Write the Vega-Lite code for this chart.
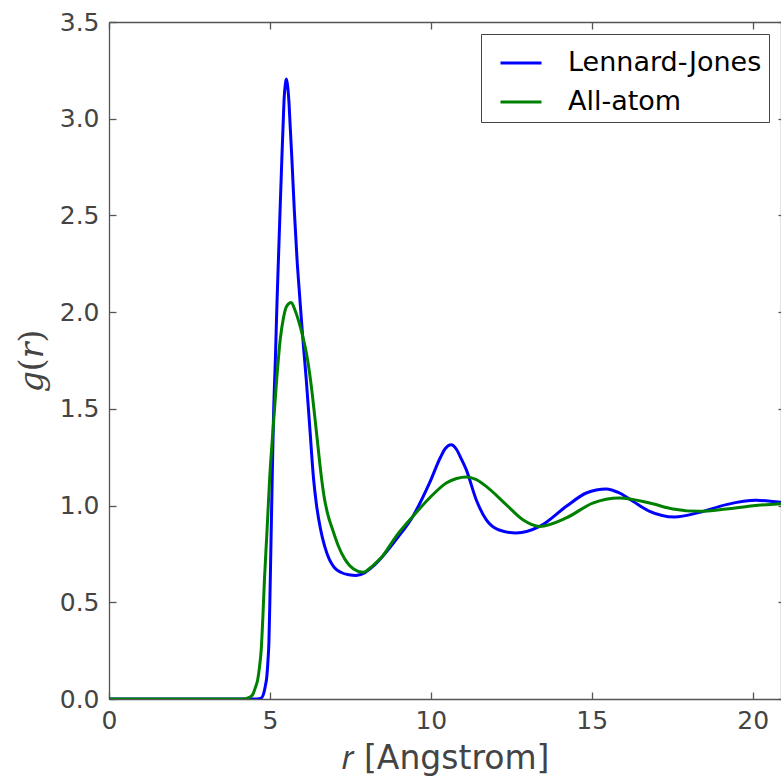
{
  "$schema": "https://vega.github.io/schema/vega-lite/v6.json",
  "autosize": {"type": "none"},
  "padding": {"left": 109, "top": 22, "right": 0, "bottom": 78},
  "width": 672,
  "height": 677,
  "background": "white",
  "config": {
    "font": "DejaVu Sans",
    "view": {"stroke": null},
    "axis": {
      "grid": false,
      "domainColor": "#555555",
      "domainWidth": 1.3,
      "tickColor": "#555555",
      "tickWidth": 1.3,
      "tickSize": -7,
      "labelFlush": false,
      "labelFont": "DejaVu Sans",
      "labelFontSize": 25,
      "labelColor": "#444444",
      "titleFont": "DejaVu Sans",
      "titleFontSize": 33,
      "titleFontWeight": "normal",
      "titleColor": "#444444"
    }
  },
  "data": {"values": [
    {"model": "Lennard-Jones", "r": 0.0, "g": 0.0},
    {"model": "Lennard-Jones", "r": 4.6, "g": 0.0},
    {"model": "Lennard-Jones", "r": 4.73, "g": 0.005},
    {"model": "Lennard-Jones", "r": 4.8, "g": 0.025},
    {"model": "Lennard-Jones", "r": 4.86, "g": 0.07},
    {"model": "Lennard-Jones", "r": 4.9, "g": 0.11},
    {"model": "Lennard-Jones", "r": 4.94, "g": 0.2},
    {"model": "Lennard-Jones", "r": 4.97, "g": 0.3},
    {"model": "Lennard-Jones", "r": 5.0, "g": 0.52},
    {"model": "Lennard-Jones", "r": 5.03, "g": 0.78},
    {"model": "Lennard-Jones", "r": 5.07, "g": 1.13},
    {"model": "Lennard-Jones", "r": 5.11, "g": 1.45},
    {"model": "Lennard-Jones", "r": 5.17, "g": 1.76},
    {"model": "Lennard-Jones", "r": 5.22, "g": 2.05},
    {"model": "Lennard-Jones", "r": 5.27, "g": 2.3},
    {"model": "Lennard-Jones", "r": 5.32, "g": 2.55},
    {"model": "Lennard-Jones", "r": 5.37, "g": 2.79},
    {"model": "Lennard-Jones", "r": 5.41, "g": 2.97},
    {"model": "Lennard-Jones", "r": 5.44, "g": 3.1},
    {"model": "Lennard-Jones", "r": 5.48, "g": 3.18},
    {"model": "Lennard-Jones", "r": 5.51, "g": 3.205},
    {"model": "Lennard-Jones", "r": 5.55, "g": 3.17},
    {"model": "Lennard-Jones", "r": 5.59, "g": 3.09},
    {"model": "Lennard-Jones", "r": 5.63, "g": 2.96},
    {"model": "Lennard-Jones", "r": 5.68, "g": 2.8},
    {"model": "Lennard-Jones", "r": 5.76, "g": 2.52},
    {"model": "Lennard-Jones", "r": 5.84, "g": 2.28},
    {"model": "Lennard-Jones", "r": 5.93, "g": 2.07},
    {"model": "Lennard-Jones", "r": 6.01, "g": 1.89},
    {"model": "Lennard-Jones", "r": 6.13, "g": 1.65},
    {"model": "Lennard-Jones", "r": 6.24, "g": 1.4},
    {"model": "Lennard-Jones", "r": 6.355, "g": 1.14},
    {"model": "Lennard-Jones", "r": 6.45, "g": 1.0},
    {"model": "Lennard-Jones", "r": 6.57, "g": 0.88},
    {"model": "Lennard-Jones", "r": 6.7, "g": 0.79},
    {"model": "Lennard-Jones", "r": 6.85, "g": 0.72},
    {"model": "Lennard-Jones", "r": 7.0, "g": 0.68},
    {"model": "Lennard-Jones", "r": 7.2, "g": 0.655},
    {"model": "Lennard-Jones", "r": 7.45, "g": 0.642},
    {"model": "Lennard-Jones", "r": 7.68, "g": 0.639},
    {"model": "Lennard-Jones", "r": 7.94, "g": 0.652},
    {"model": "Lennard-Jones", "r": 8.2, "g": 0.685},
    {"model": "Lennard-Jones", "r": 8.46, "g": 0.729},
    {"model": "Lennard-Jones", "r": 8.95, "g": 0.83},
    {"model": "Lennard-Jones", "r": 9.44, "g": 0.944},
    {"model": "Lennard-Jones", "r": 9.96, "g": 1.117},
    {"model": "Lennard-Jones", "r": 10.3, "g": 1.25},
    {"model": "Lennard-Jones", "r": 10.45, "g": 1.295},
    {"model": "Lennard-Jones", "r": 10.63, "g": 1.315},
    {"model": "Lennard-Jones", "r": 10.8, "g": 1.29},
    {"model": "Lennard-Jones", "r": 10.95, "g": 1.24},
    {"model": "Lennard-Jones", "r": 11.1, "g": 1.186},
    {"model": "Lennard-Jones", "r": 11.41, "g": 1.03},
    {"model": "Lennard-Jones", "r": 11.72, "g": 0.927},
    {"model": "Lennard-Jones", "r": 12.1, "g": 0.875},
    {"model": "Lennard-Jones", "r": 12.65, "g": 0.858},
    {"model": "Lennard-Jones", "r": 13.38, "g": 0.892},
    {"model": "Lennard-Jones", "r": 14.21, "g": 0.996},
    {"model": "Lennard-Jones", "r": 14.83, "g": 1.065},
    {"model": "Lennard-Jones", "r": 15.45, "g": 1.086},
    {"model": "Lennard-Jones", "r": 15.86, "g": 1.065},
    {"model": "Lennard-Jones", "r": 16.28, "g": 1.022},
    {"model": "Lennard-Jones", "r": 16.8, "g": 0.97},
    {"model": "Lennard-Jones", "r": 17.57, "g": 0.941},
    {"model": "Lennard-Jones", "r": 18.35, "g": 0.965},
    {"model": "Lennard-Jones", "r": 19.18, "g": 1.005},
    {"model": "Lennard-Jones", "r": 20.11, "g": 1.027},
    {"model": "Lennard-Jones", "r": 20.88, "g": 1.017},
    {"model": "All-atom", "r": 0.0, "g": 0.0},
    {"model": "All-atom", "r": 4.2, "g": 0.0},
    {"model": "All-atom", "r": 4.3, "g": 0.004},
    {"model": "All-atom", "r": 4.4, "g": 0.012},
    {"model": "All-atom", "r": 4.47, "g": 0.025},
    {"model": "All-atom", "r": 4.55, "g": 0.06},
    {"model": "All-atom", "r": 4.62, "g": 0.1},
    {"model": "All-atom", "r": 4.68, "g": 0.17},
    {"model": "All-atom", "r": 4.73, "g": 0.255},
    {"model": "All-atom", "r": 4.78, "g": 0.42},
    {"model": "All-atom", "r": 4.83, "g": 0.617},
    {"model": "All-atom", "r": 4.91, "g": 0.87},
    {"model": "All-atom", "r": 4.99, "g": 1.134},
    {"model": "All-atom", "r": 5.1, "g": 1.4},
    {"model": "All-atom", "r": 5.21, "g": 1.651},
    {"model": "All-atom", "r": 5.32, "g": 1.858},
    {"model": "All-atom", "r": 5.42, "g": 1.97},
    {"model": "All-atom", "r": 5.52, "g": 2.03},
    {"model": "All-atom", "r": 5.66, "g": 2.05},
    {"model": "All-atom", "r": 5.78, "g": 2.01},
    {"model": "All-atom", "r": 5.9, "g": 1.95},
    {"model": "All-atom", "r": 6.02, "g": 1.875},
    {"model": "All-atom", "r": 6.12, "g": 1.8},
    {"model": "All-atom", "r": 6.22, "g": 1.7},
    {"model": "All-atom", "r": 6.32, "g": 1.57},
    {"model": "All-atom", "r": 6.42, "g": 1.42},
    {"model": "All-atom", "r": 6.51, "g": 1.28},
    {"model": "All-atom", "r": 6.59, "g": 1.16},
    {"model": "All-atom", "r": 6.68, "g": 1.05},
    {"model": "All-atom", "r": 6.79, "g": 0.96},
    {"model": "All-atom", "r": 6.95, "g": 0.875},
    {"model": "All-atom", "r": 7.13, "g": 0.79},
    {"model": "All-atom", "r": 7.32, "g": 0.725},
    {"model": "All-atom", "r": 7.6, "g": 0.672},
    {"model": "All-atom", "r": 7.89, "g": 0.655},
    {"model": "All-atom", "r": 8.2, "g": 0.69},
    {"model": "All-atom", "r": 8.46, "g": 0.731},
    {"model": "All-atom", "r": 8.92, "g": 0.841},
    {"model": "All-atom", "r": 9.44, "g": 0.944},
    {"model": "All-atom", "r": 9.96, "g": 1.039},
    {"model": "All-atom", "r": 10.48, "g": 1.117},
    {"model": "All-atom", "r": 10.8, "g": 1.14},
    {"model": "All-atom", "r": 11.1, "g": 1.148},
    {"model": "All-atom", "r": 11.4, "g": 1.135},
    {"model": "All-atom", "r": 11.72, "g": 1.099},
    {"model": "All-atom", "r": 12.34, "g": 1.005},
    {"model": "All-atom", "r": 12.86, "g": 0.927},
    {"model": "All-atom", "r": 13.38, "g": 0.892},
    {"model": "All-atom", "r": 14.21, "g": 0.936},
    {"model": "All-atom", "r": 15.03, "g": 1.013},
    {"model": "All-atom", "r": 15.86, "g": 1.039},
    {"model": "All-atom", "r": 16.8, "g": 1.013},
    {"model": "All-atom", "r": 17.52, "g": 0.982},
    {"model": "All-atom", "r": 18.35, "g": 0.97},
    {"model": "All-atom", "r": 19.18, "g": 0.982},
    {"model": "All-atom", "r": 20.01, "g": 0.999},
    {"model": "All-atom", "r": 20.88, "g": 1.01}
  ]},
  "layer": [
    {
      "mark": {"type": "line", "strokeWidth": 3, "interpolate": "monotone", "clip": true},
      "encoding": {
        "x": {"field": "r", "type": "quantitative",
              "scale": {"domain": [0, 20.88], "nice": false, "zero": false},
              "axis": {"orient": "bottom", "values": [0, 5, 10, 15, 20], "format": "d",
                       "labelPadding": 16, "title": "𝑟 [Angstrom]", "titlePadding": 9}},
        "y": {"field": "g", "type": "quantitative",
              "scale": {"domain": [0, 3.5], "nice": false},
              "axis": {"orient": "left", "values": [0, 0.5, 1, 1.5, 2, 2.5, 3, 3.5], "format": ".1f",
                       "labelPadding": 17, "title": "𝑔(𝑟)", "titleFont": "DejaVu Serif", "titlePadding": 10}},
        "color": {"field": "model", "type": "nominal", "sort": ["Lennard-Jones", "All-atom"],
                  "scale": {"domain": ["Lennard-Jones", "All-atom"], "range": ["#0000ff", "#008000"]},
                  "legend": {"orient": "none", "legendX": 372, "legendY": 12, "title": null,
                             "strokeColor": "#444444", "fillColor": "white", "padding": 7,
                             "symbolType": "stroke", "symbolSize": 1681, "symbolStrokeWidth": 3,
                             "symbolOffset": 11, "labelOffset": 25, "rowPadding": 4, "labelLimit": 400,
                             "labelExpr": "datum.label + '\u00a0'",
                             "labelFont": "DejaVu Sans", "labelFontSize": 27, "labelColor": "black"}}
      }
    },
    {
      "mark": {"type": "point", "opacity": 0},
      "encoding": {
        "x": {"field": "r", "type": "quantitative",
              "axis": {"orient": "top", "values": [0, 5, 10, 15, 20], "labels": false, "title": null}},
        "y": {"field": "g", "type": "quantitative",
              "axis": {"orient": "right", "values": [0, 0.5, 1, 1.5, 2, 2.5, 3, 3.5], "labels": false,
                       "title": null, "tickSize": -3}}
      }
    }
  ],
  "resolve": {"axis": {"x": "independent", "y": "independent"}}
}
